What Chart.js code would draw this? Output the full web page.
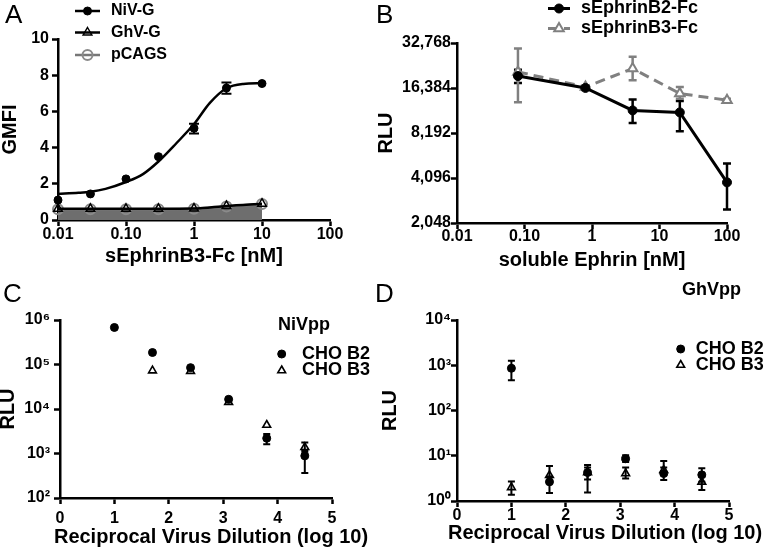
<!DOCTYPE html>
<html>
<head>
<meta charset="utf-8">
<script src="https://cdn.jsdelivr.net/npm/chart.js@4.4.1/dist/chart.umd.min.js"></script>
<style>
  body { margin: 0; background: #fff; width: 768px; height: 554px; position: relative; overflow: hidden; }
  .panel { position: absolute; }
</style>
</head>
<body>
<div class="panel" style="left:0;top:0;width:384px;height:277px"><canvas id="chart-a"></canvas></div>
<div class="panel" style="left:372px;top:0;width:396px;height:277px"><canvas id="chart-b"></canvas></div>
<div class="panel" style="left:0;top:277px;width:384px;height:277px"><canvas id="chart-c"></canvas></div>
<div class="panel" style="left:372px;top:277px;width:396px;height:277px"><canvas id="chart-d"></canvas></div>
<script>
// ---- panel A: binding of sEphrinB3-Fc (GMFI) ----
const concA = [0.01, 0.03, 0.1, 0.3, 1, 3, 10];
const nivG = [1.1, 1.44, 2.27, 3.5, 5.07, 7.29, 7.54];
const nivGLo = [null, null, null, null, 4.78, 6.98, null];
const nivGHi = [null, null, null, null, 5.32, 7.6, null];
const ghvG = [0.62, 0.62, 0.62, 0.62, 0.63, 0.78, 0.9];
const pcags = [0.6, 0.6, 0.6, 0.6, 0.62, 0.75, 0.88];
// fitted curve
const nivFitX = [0.01, 0.02, 0.03, 0.05, 0.1, 0.18, 0.3, 0.55, 1, 1.7, 3, 5.3, 10];
const nivFitY = [1.44, 1.5, 1.56, 1.72, 2.1, 2.55, 3.23, 4.24, 5.3, 6.46, 7.28, 7.52, 7.56];
const ticksXA = [0.01, 0.1, 1, 10, 100];
const labelsXA = ["0.01", "0.10", "1", "10", "100"];
const ticksYA = [0, 2, 4, 6, 8, 10];
const labelsYA = ["0", "2", "4", "6", "8", "10"];

// ---- panel B: soluble ephrin competition (RLU) ----
const concB = [0.08, 0.8, 4, 20, 100];
const sEphB2 = [19700, 16400, 11600, 11250, 3830];
const sEphB2Lo = [17700, 15900, 9550, 8430, 2520];
const sEphB2Hi = [21700, 16900, 13700, 13400, 5120];
const sEphB3 = [21000, 16640, 22100, 15050, 13580];
const sEphB3Lo = [13180, 16200, 18440, 13900, 13300];
const sEphB3Hi = [30100, 17100, 26500, 16640, 13900];
const ticksXB = [0.01, 0.1, 1, 10, 100];
const labelsXB = ["0.01", "0.10", "1", "10", "100"];
const ticksYB = [2048, 4096, 8192, 16384, 32768];
const labelsYB = ["2,048", "4,096", "8,192", "16,384", "32,768"];

// ---- panel C: NiVpp entry ----
const dilution = [1, 1.7, 2.4, 3.1, 3.8, 4.5];
const nivB2 = [680000, 186000, 85000, 16500, 2200, 885];
const nivB2Lo = [null, null, null, null, 1620, 363];
const nivB2Hi = [null, null, null, null, 2750, 1200];
const nivB3 = [null, 73000, 71000, 14300, 4370, 1380];
const nivB3Lo = [null, null, null, null, null, 1100];
const nivB3Hi = [null, null, null, null, null, 1760];
const ticksYC = [100, 1000, 10000, 100000, 1000000];
const labelsYC = ["10²", "10³", "10⁴", "10⁵", "10⁶"];

// ---- panel D: GhVpp entry ----
const ghvB2 = [858, 2.65, 4.26, 8.6, 4.05, 3.78];
const ghvB2Lo = [468, 1.5, 1.55, 7.3, 2.9, 2.65];
const ghvB2Hi = [1260, 3.5, 6.26, 10.2, 5.5, 5.3];
const ghvB3 = [2.0, 3.7, 4.3, 4.05, 4.8, 2.65];
const ghvB3Lo = [1.37, 2.6, 3.0, 3.14, 3.8, 1.74];
const ghvB3Hi = [2.7, 5.95, 5.5, 5.5, 7.7, 3.5];
const ticksYD = [1, 10, 100, 1000, 10000];
const labelsYD = ["10⁰", "10¹", "10²", "10³", "10⁴"];

const ticksXCD = [0, 1, 2, 3, 4, 5];
const labelsXCD = ["0", "1", "2", "3", "4", "5"];

const FONT = "'Liberation Sans', Arial, Helvetica, sans-serif";
Chart.defaults.font.family = FONT;
Chart.defaults.color = "#000";
Chart.defaults.animation = false;

const pts = (xs, ys) => xs.map((x, i) => ({ x, y: ys[i] }));

// vertical error bars, read from dataset.errLo / errHi
const errorBars = {
  id: "errorBars",
  beforeDatasetsDraw(chart) {
    const ctx = chart.ctx;
    const yScale = chart.scales.y;
    chart.data.datasets.forEach((ds, di) => {
      if (!ds.errLo) return;
      const meta = chart.getDatasetMeta(di);
      ctx.save();
      ctx.strokeStyle = ds.errColor || ds.pointBorderColor || "#000";
      ctx.lineWidth = ds.errWidth || 2;
      meta.data.forEach((pt, i) => {
        const lo = ds.errLo[i];
        const hi = ds.errHi[i];
        if (lo == null || hi == null || pt.skip) return;
        const yl = yScale.getPixelForValue(lo);
        const yh = yScale.getPixelForValue(hi);
        const cap = ds.errCap || 4;
        ctx.beginPath();
        ctx.moveTo(pt.x, yl);
        ctx.lineTo(pt.x, yh);
        ctx.moveTo(pt.x - cap, yl);
        ctx.lineTo(pt.x + cap, yl);
        ctx.moveTo(pt.x - cap, yh);
        ctx.lineTo(pt.x + cap, yh);
        ctx.stroke();
      });
      ctx.restore();
    });
  },
};

function drawMark(ctx, style, x, y, r, fill, stroke, lw) {
  ctx.beginPath();
  if (style === "triangle") {
    ctx.moveTo(x, y - r);
    ctx.lineTo(x + r * 0.866, y + r / 2);
    ctx.lineTo(x - r * 0.866, y + r / 2);
    ctx.closePath();
  } else {
    ctx.arc(x, y, r, 0, Math.PI * 2);
  }
  if (fill && fill !== "transparent") {
    ctx.fillStyle = fill;
    ctx.fill();
  }
  ctx.setLineDash([]);
  ctx.lineWidth = lw || 1;
  ctx.strokeStyle = stroke;
  ctx.stroke();
}

// small key in the corner, built from the datasets' own styles
const keyLegend = {
  id: "keyLegend",
  afterDraw(chart, args, opts) {
    if (!opts.rows) return;
    const ctx = chart.ctx;
    ctx.save();
    ctx.font = opts.textFont;
    ctx.textBaseline = "middle";
    ctx.fillStyle = "#000";
    if (opts.heading) ctx.fillText(opts.heading, opts.headingX, opts.headingY);
    opts.rows.forEach((row) => {
      const ds = chart.data.datasets[row.ds];
      const len = opts.lineLen || 0;
      if (len) {
        ctx.beginPath();
        ctx.setLineDash(ds.borderDash || []);
        ctx.strokeStyle = ds.borderColor;
        ctx.lineWidth = ds.borderWidth;
        ctx.moveTo(opts.x, row.y);
        ctx.lineTo(opts.x + len, row.y);
        ctx.stroke();
      }
      drawMark(ctx, ds.pointStyle, opts.x + len / 2, row.y, ds.pointRadius,
        ds.pointBackgroundColor, ds.pointBorderColor, ds.pointBorderWidth);
      ctx.fillStyle = "#000";
      ctx.fillText(ds.label, opts.textX, row.y);
    });
    ctx.restore();
  },
};

// panel letters and any loose text
const panelText = {
  id: "panelText",
  afterDraw(chart, args, opts) {
    if (!opts.items) return;
    const ctx = chart.ctx;
    opts.items.forEach((t) => {
      ctx.save();
      ctx.font = t.textFont;
      ctx.fillStyle = "#000";
      ctx.textAlign = t.align || "left";
      ctx.textBaseline = t.baseline || "middle";
      ctx.fillText(t.text, t.x, t.y);
      ctx.restore();
    });
  },
};

Chart.register(errorBars, keyLegend, panelText);

function axis(o) {
  return {
    type: o.type,
    min: o.min,
    max: o.max,
    afterBuildTicks: (s) => { s.ticks = o.ticks.map((v) => ({ value: v })); },
    afterFit: (s) => {
      if (o.width != null) s.width = o.width;
      if (o.height != null) s.height = o.height;
    },
    grid: { drawOnChartArea: false, drawTicks: true, tickLength: 6, tickWidth: 2.5, tickColor: "#000" },
    border: { display: true, color: "#000", width: 2.5 },
    ticks: {
      font: { size: 16, weight: "bold", lineHeight: 1 },
      color: "#000",
      padding: o.pad,
      autoSkip: false,
      maxRotation: 0,
      callback: (v, i) => o.labels[i],
    },
    title: o.title
      ? { display: true, text: o.title, color: "#000", font: { size: 20, weight: "bold", lineHeight: 1 }, padding: o.titlePad }
      : { display: false },
  };
}

const letterFont = "26px " + FONT;
const titleFont = "bold 20px " + FONT;

// ---------- A ----------
new Chart(document.getElementById("chart-a"), {
  type: "line",
  data: {
    datasets: [
      { label: "NiV-G", data: pts(concA, nivG), showLine: false, pointStyle: "circle", pointRadius: 4,
        pointBackgroundColor: "#000", pointBorderColor: "#000", pointBorderWidth: 1,
        borderColor: "#000", borderWidth: 2.5, errLo: nivGLo, errHi: nivGHi, errCap: 5, errWidth: 2, order: 1, clip: false },
      { label: "NiV-G fit", data: pts(nivFitX, nivFitY), borderColor: "#000", borderWidth: 2.5, pointRadius: 0,
        cubicInterpolationMode: "monotone", order: 2, clip: false },
      { label: "GhV-G", data: pts(concA, ghvG), borderColor: "#000", borderWidth: 2.5, pointStyle: "triangle", pointRadius: 5,
        pointBackgroundColor: "transparent", pointBorderColor: "#000", pointBorderWidth: 1.5,
        cubicInterpolationMode: "monotone", order: 3, clip: false },
      { label: "pCAGS", data: pts(concA, pcags), borderColor: "#777", borderWidth: 2.5, fill: "origin", backgroundColor: "#6e6e6e",
        pointStyle: "circle", pointRadius: 5, pointBackgroundColor: "transparent", pointBorderColor: "#8a8a8a", pointBorderWidth: 2,
        cubicInterpolationMode: "monotone", order: 4, clip: false },
    ],
  },
  options: {
    responsive: true,
    maintainAspectRatio: false,
    layout: { padding: { left: 0, top: 39, right: 54, bottom: 0 } },
    scales: {
      x: axis({ type: "logarithmic", min: 0.01, max: 100, ticks: ticksXA, labels: labelsXA, height: 57, pad: 1,
        title: "sEphrinB3-Fc [nM]", titlePad: { top: 0, bottom: 11 } }),
      y: axis({ type: "linear", min: 0, max: 10, ticks: ticksYA, labels: labelsYA, width: 58, pad: 3,
        title: "GMFI", titlePad: { top: 0, bottom: 0 } }),
    },
    plugins: {
      legend: { display: false },
      tooltip: { enabled: false },
      keyLegend: { x: 75, lineLen: 25, textX: 111, textFont: "bold 16px " + FONT,
        rows: [{ ds: 0, y: 11 }, { ds: 2, y: 32.5 }, { ds: 3, y: 55 }] },
      panelText: { items: [{ text: "A", x: 5, y: 23, baseline: "alphabetic", textFont: letterFont }] },
    },
  },
});

// ---------- B ----------
new Chart(document.getElementById("chart-b"), {
  type: "line",
  data: {
    datasets: [
      { label: "sEphrinB2-Fc", data: pts(concB, sEphB2), borderColor: "#000", borderWidth: 3, pointStyle: "circle", pointRadius: 4.5,
        pointBackgroundColor: "#000", pointBorderColor: "#000", pointBorderWidth: 1,
        errLo: sEphB2Lo, errHi: sEphB2Hi, errCap: 4, errWidth: 2.5, order: 1, clip: false },
      { label: "sEphrinB3-Fc", data: pts(concB, sEphB3), borderColor: "#808080", borderWidth: 3, borderDash: [10, 6],
        pointStyle: "triangle", pointRadius: 5.5, pointBackgroundColor: "#fff", pointBorderColor: "#808080", pointBorderWidth: 2,
        errLo: sEphB3Lo, errHi: sEphB3Hi, errCap: 4, errWidth: 2.5, order: 2, clip: false },
    ],
  },
  options: {
    responsive: true,
    maintainAspectRatio: false,
    layout: { padding: { left: 0, top: 43, right: 41, bottom: 0 } },
    scales: {
      x: axis({ type: "logarithmic", min: 0.01, max: 100, ticks: ticksXB, labels: labelsXB, height: 54, pad: 0,
        title: "soluble Ephrin [nM]", titlePad: { top: 0, bottom: 7 } }),
      y: axis({ type: "logarithmic", min: 2048, max: 32768, ticks: ticksYB, labels: labelsYB, width: 85, pad: 0,
        title: "RLU", titlePad: { top: 4, bottom: 0 } }),
    },
    plugins: {
      legend: { display: false },
      tooltip: { enabled: false },
      keyLegend: { x: 176, lineLen: 22, textX: 209, textFont: "bold 18px " + FONT,
        rows: [{ ds: 0, y: 8.5 }, { ds: 1, y: 28.5 }] },
      panelText: { items: [{ text: "B", x: 4, y: 23, baseline: "alphabetic", textFont: letterFont }] },
    },
  },
});

// ---------- C ----------
new Chart(document.getElementById("chart-c"), {
  type: "scatter",
  data: {
    datasets: [
      { label: "CHO B2", data: pts(dilution, nivB2), pointStyle: "circle", pointRadius: 4,
        pointBackgroundColor: "#000", pointBorderColor: "#000", pointBorderWidth: 1,
        errLo: nivB2Lo, errHi: nivB2Hi, errCap: 3.5, errWidth: 2, order: 2, clip: false },
      { label: "CHO B3", data: pts(dilution, nivB3), pointStyle: "triangle", pointRadius: 4.5,
        pointBackgroundColor: "transparent", pointBorderColor: "#000", pointBorderWidth: 1.6,
        errLo: nivB3Lo, errHi: nivB3Hi, errCap: 3.5, errWidth: 2, order: 1, clip: false },
    ],
  },
  options: {
    responsive: true,
    maintainAspectRatio: false,
    layout: { padding: { left: 0, top: 43, right: 52, bottom: 0 } },
    scales: {
      x: axis({ type: "linear", min: 0, max: 5, ticks: ticksXCD, labels: labelsXCD, height: 56, pad: 7 }),
      y: axis({ type: "logarithmic", min: 100, max: 1000000, ticks: ticksYC, labels: labelsYC, width: 60, pad: 4,
        title: "RLU", titlePad: { top: -2, bottom: 0 } }),
    },
    plugins: {
      legend: { display: false },
      tooltip: { enabled: false },
      keyLegend: { x: 281.7, lineLen: 0, textX: 302, textFont: "bold 18px " + FONT,
        heading: "NiVpp", headingX: 278, headingY: 48,
        rows: [{ ds: 0, y: 77 }, { ds: 1, y: 93.5 }] },
      panelText: { items: [
        { text: "C", x: 3, y: 25, baseline: "alphabetic", textFont: letterFont },
        { text: "Reciprocal Virus Dilution (log 10)", x: 211, y: 260, align: "center", textFont: titleFont },
      ] },
    },
  },
});

// ---------- D ----------
new Chart(document.getElementById("chart-d"), {
  type: "scatter",
  data: {
    datasets: [
      { label: "CHO B2", data: pts(dilution, ghvB2), pointStyle: "circle", pointRadius: 4,
        pointBackgroundColor: "#000", pointBorderColor: "#000", pointBorderWidth: 1,
        errLo: ghvB2Lo, errHi: ghvB2Hi, errCap: 3.5, errWidth: 2, order: 2, clip: false },
      { label: "CHO B3", data: pts(dilution, ghvB3), pointStyle: "triangle", pointRadius: 4.5,
        pointBackgroundColor: "transparent", pointBorderColor: "#000", pointBorderWidth: 1.6,
        errLo: ghvB3Lo, errHi: ghvB3Hi, errCap: 3.5, errWidth: 2, order: 1, clip: false },
    ],
  },
  options: {
    responsive: true,
    maintainAspectRatio: false,
    layout: { padding: { left: 0, top: 43, right: 39, bottom: 0 } },
    scales: {
      x: axis({ type: "linear", min: 0, max: 5, ticks: ticksXCD, labels: labelsXCD, height: 53, pad: 1 }),
      y: axis({ type: "logarithmic", min: 1, max: 10000, ticks: ticksYD, labels: labelsYD, width: 85, pad: 0,
        title: "RLU", titlePad: { top: 8, bottom: 0 } }),
    },
    plugins: {
      legend: { display: false },
      tooltip: { enabled: false },
      keyLegend: { x: 308.7, lineLen: 0, textX: 323.7, textFont: "bold 18px " + FONT,
        heading: "GhVpp", headingX: 310, headingY: 13,
        rows: [{ ds: 0, y: 72 }, { ds: 1, y: 88 }] },
      panelText: { items: [
        { text: "D", x: 3, y: 25, baseline: "alphabetic", textFont: letterFont },
        { text: "Reciprocal Virus Dilution (log 10)", x: 233, y: 256, align: "center", textFont: titleFont },
      ] },
    },
  },
});
</script>
</body>
</html>
